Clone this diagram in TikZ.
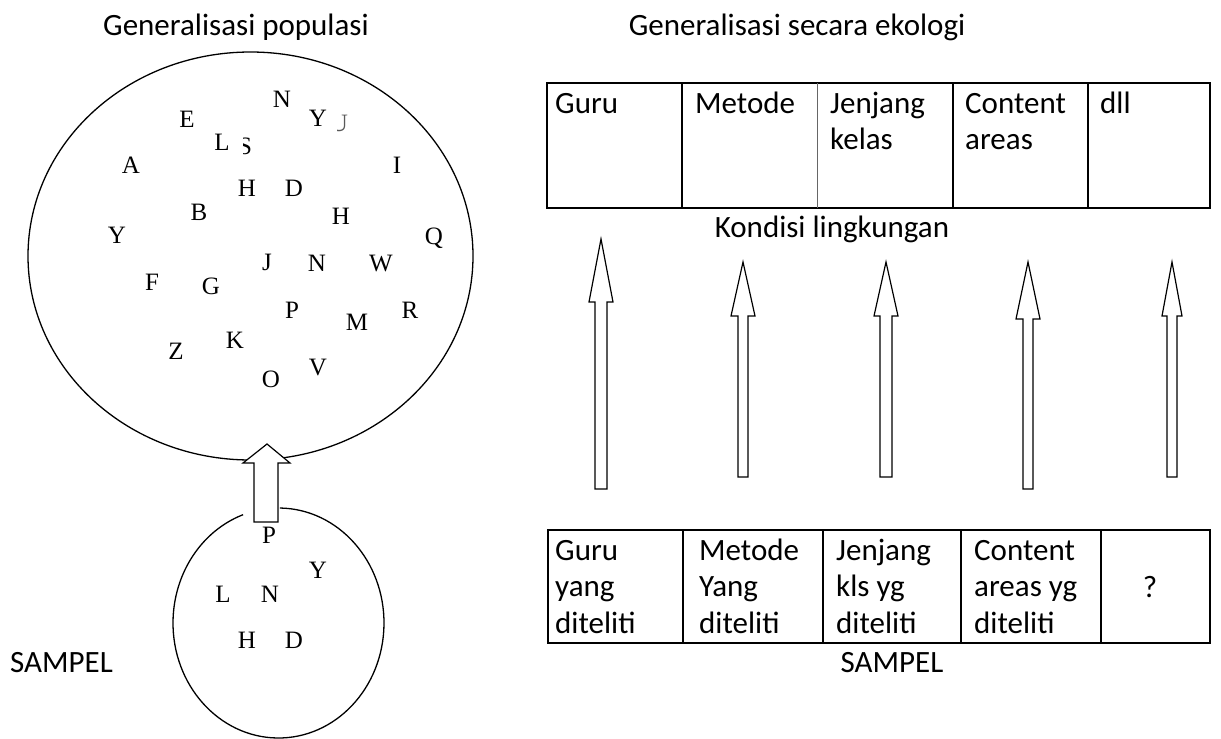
\documentclass[tikz,border=0pt]{standalone}
\usepackage{fontspec}
\setmainfont{Carlito}
\newfontfamily\ltrfont{Liberation Serif}
\usetikzlibrary{calc}

\tikzset{
  lbl/.style={font=\fontsize{31}{36.5}\selectfont, inner sep=0pt},
  ltr/.style={font=\ltrfont\fontsize{25}{30}\selectfont, inner sep=0pt, anchor=base},
  blob/.style={line width=1.3pt},
  tbl/.style={line width=1.6pt},
  blockarrow/.style={line width=1.2pt, fill=white, line join=miter},
}

\begin{document}
\begin{tikzpicture}[x=1pt, y=-1pt]
    \useasboundingbox (0,0) rectangle (1221,739);

    % titles
    \node[lbl, anchor=base] (popTitle) at (236,35) {Generalisasi populasi};
    \node[lbl, anchor=base] (ekoTitle) at (797,35) {Generalisasi secara ekologi};

    % population and sample
    \coordinate (bigc) at (250.5,256);
    \coordinate (smallc) at (278.5,623);
    \draw[blob] (bigc) ellipse [x radius=222.5, y radius=204];
    \draw[blob] ($(smallc)+(-89.2:105.5 and 115)$)
      arc[start angle=-89.2, end angle=250.4, x radius=105.5, y radius=115];
    \coordinate (bigtip) at (267,444);
    \coordinate (bigfoot) at (266,522);
    \draw[blockarrow] ($(bigfoot)+(-12,0)$) |- (243,463) -- (bigtip)
      -- (290,463) -| ($(bigfoot)+(12,0)$) -- cycle;

    \foreach \n/\x/\y/\c in {1/282/107/N, 2/187/127/E, 3/318/126/Y, 4/222/150/L,
      5/131/173/A, 6/397/173/I, 7/247/196/H, 8/294/196/D, 9/199/220/B,
      10/341/224/H, 11/117/243/Y, 12/434/244/Q, 13/267/270/J, 14/317/271/N,
      15/381/271/W, 16/152/290/F, 17/211/294/G, 18/292/318/P, 19/357/330/M,
      20/410/318/R, 21/176/359/Z, 22/235/348/K, 23/318/375/V, 24/271/387/O}
      \node[ltr] (pop\n) at (\x,\y) {\c};
    \begin{scope}
      \clip (243,110) rectangle (262,160);
      \node[ltr] (popS) at (245,154) {S};
    \end{scope}
    \begin{scope}
      \clip (337,100) rectangle (355,140);
      \node[ltr, text=black!65] (popU) at (339,131) {U};
    \end{scope}

    \foreach \n/\x/\y/\c in {1/269/543/P, 2/318/578/Y, 3/223/602/L,
      4/270/602/N, 5/247/648/H, 6/294/648/D}
      \node[ltr] (smp\n) at (\x,\y) {\c};
    \node[lbl, anchor=base west] (smpLabel) at (10,672) {SAMPEL};

    % ecological conditions
    \draw[tbl] (547,83) rectangle (1210,208);
    \draw[tbl] (682,83) -- (682,208) (953,83) -- (953,208) (1088,83) -- (1088,208);
    \draw[line width=0.8pt, black!60] (817,83) -- (817,208);
    \node[lbl, anchor=base west] (kGuru) at (555,113) {Guru};
    \node[lbl, anchor=base west] (kMetode) at (695,113) {Metode};
    \node[lbl, anchor=base west, align=left] (kJenjang) at (830,149.5) {Jenjang\\kelas};
    \node[lbl, anchor=base west, align=left] (kContent) at (965,149.5) {Content\\areas};
    \node[lbl, anchor=base west] (kDll) at (1100,113) {dll};
    \node[lbl, anchor=base] (kondisi) at (832,237) {Kondisi lingkungan};

    \foreach \i/\x/\t/\b/\e/\hw/\sw in {1/601/239/302/489/12/6, 2/743/262/316/477/12/5,
      3/886/262/316/477/12/6, 4/1028/262/319/489/12/5, 5/1172/262/316/477/10/5} {
      \coordinate (tip\i) at (\x,\t);
      \coordinate (foot\i) at (\x,\e);
      \draw[blockarrow] ($(foot\i)+(-\sw,0)$) |- (\x-\hw,\b) -- (tip\i)
        -- (\x+\hw,\b) -| ($(foot\i)+(\sw,0)$) -- cycle;
    }

    % sampled conditions
    \draw[tbl] (548,530) rectangle (1210,643);
    \draw[tbl] (683,530) -- (683,643) (823,530) -- (823,643)
      (961,530) -- (961,643) (1101,530) -- (1101,643);
    \node[lbl, anchor=base west, align=left] (sGuru) at (555,633) {Guru\\yang\\diteliti};
    \node[lbl, anchor=base west, align=left] (sMetode) at (699,633) {Metode\\Yang\\diteliti};
    \node[lbl, anchor=base west, align=left] (sJenjang) at (836,633) {Jenjang\\kls yg\\diteliti};
    \node[lbl, anchor=base west, align=left] (sContent) at (974,633) {Content\\areas yg\\diteliti};
    \node[lbl, anchor=base] (sLain) at (1150,597) {?};
    \node[lbl, anchor=base] (sampel) at (892,672) {SAMPEL};
\end{tikzpicture}
\end{document}
